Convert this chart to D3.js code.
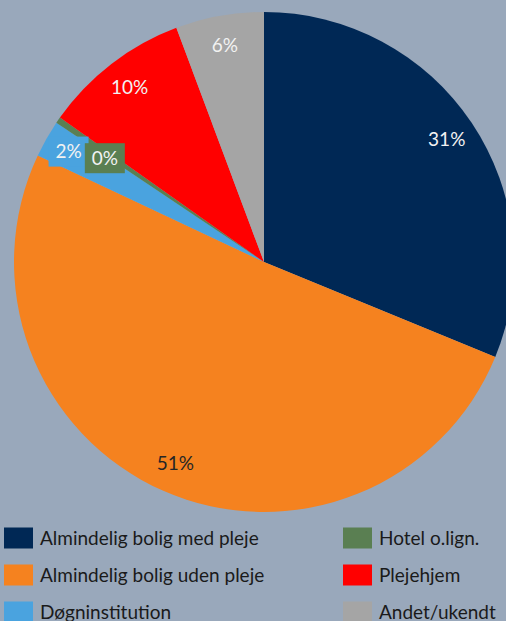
<!DOCTYPE html>
<html>
<head>
<meta charset="utf-8">
<script src="https://cdn.jsdelivr.net/npm/d3@7"></script>
<style>
  html, body { margin: 0; padding: 0; background: #99a8bb; }
  svg { display: block; }
</style>
</head>
<body>
<div id="chart"></div>
<script>
// categories, shares (%) and colours, clockwise from 12 o'clock
const categories = ["Almindelig bolig med pleje", "Almindelig bolig uden pleje", "Døgninstitution",
                    "Hotel o.lign.", "Plejehjem", "Andet/ukendt"];
const values     = [31.2, 50.8, 2.4, 0.4, 9.5, 5.7];
const labels     = ["31%", "51%", "2%", "0%", "10%", "6%"];
const colors     = ["#002855", "#f5821f", "#4aa3df", "#5a7f52", "#ff0000", "#a5a5a5"];
const labelInk   = ["#f2f2f2", "#262626", "#f2f2f2", "#f2f2f2", "#f2f2f2", "#f2f2f2"];
// legend order (two columns)
const legendOrder = [0, 1, 2, 3, 4, 5];

const width = 506, height = 621;
const cx = 264, cy = 262, radius = 250;

const svg = d3.select("#chart").append("svg")
    .attr("width", width).attr("height", height);

const g = svg.append("g").attr("transform", `translate(${cx},${cy})`);

const pie = d3.pie().sort(null).value(d => d)(values);
const arc = d3.arc().innerRadius(0).outerRadius(radius);
const labelArc = d3.arc().innerRadius(radius * 0.88).outerRadius(radius * 0.88);

g.selectAll("path.slice").data(pie).join("path")
    .attr("class", "slice")
    .attr("d", arc)
    .attr("fill", (d, i) => colors[i]);

// data labels; the tiny slices get a coloured box like the original
const nudge = { 2: [-4, -2], 3: [22, 21] };
const lbl = g.selectAll("g.lbl").data(pie).join("g")
    .attr("class", "lbl")
    .attr("transform", (d, i) => {
        const [x, y] = labelArc.centroid(d);
        const o = nudge[i] || [0, 0];
        return `translate(${x + o[0]},${y + o[1]})`;
    });

lbl.filter((d, i) => i === 2 || i === 3).append("rect")
    .attr("x", -20).attr("y", -15).attr("width", 40).attr("height", 30)
    .attr("fill", d => colors[pie.indexOf(d)]);

lbl.append("text")
    .attr("text-anchor", "middle")
    .attr("dy", "0.35em")
    .style("font-family", "Lato, 'Open Sans', sans-serif")
    .style("font-size", "19px")
    .style("fill", (d, i) => labelInk[i])
    .text((d, i) => labels[i]);

// legend
const legend = svg.append("g").style("font-family", "Lato, 'Open Sans', sans-serif");
legendOrder.forEach((k, j) => {
    const col = Math.floor(j / 3), row = j % 3;
    const item = legend.append("g")
        .attr("transform", `translate(${col ? 343 : 4},${538 + row * 37})`);
    item.append("rect")
        .attr("x", 0).attr("y", -10.5).attr("width", 29).attr("height", 21)
        .attr("fill", colors[k]);
    item.append("text")
        .attr("x", 36).attr("dy", "0.35em")
        .style("font-size", "19px").style("fill", "#1a1a1a")
        .text(categories[k]);
});
</script>
</body>
</html>
